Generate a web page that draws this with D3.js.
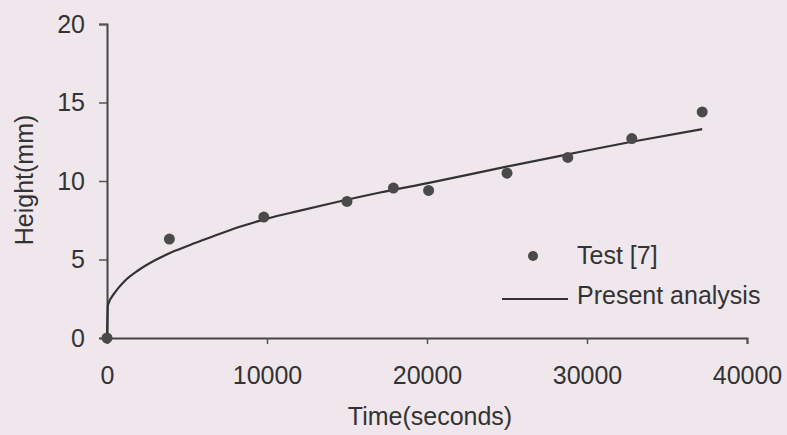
<!DOCTYPE html>
<html>
<head>
<meta charset="utf-8">
<script src="https://cdn.jsdelivr.net/npm/d3@7"></script>
<style>
  html, body { margin: 0; padding: 0; background: #efe7eb; }
  svg { display: block; }
  text { font-family: "Liberation Sans", Arial, sans-serif; fill: #333; }
</style>
</head>
<body>
<svg id="chart" width="787" height="435"></svg>
<script>
// Test [7] data (time in seconds, height in mm)
const testTime   = [0, 3900, 9800, 15000, 17900, 20100, 25000, 28800, 32800, 37200];
const testHeight = [0, 6.3, 7.7, 8.7, 9.55, 9.4, 10.5, 11.5, 12.7, 14.4];

// Present analysis curve
const curveTime   = [0, 60, 500, 1125, 1940, 3000, 4250, 5500, 6560, 8200, 10000, 12000, 14100, 17000, 20200, 24900, 28800, 32800, 37200];
const curveHeight = [0, 2.1, 2.9, 3.65, 4.3, 4.95, 5.55, 6.05, 6.45, 7.05, 7.6, 8.1, 8.6, 9.25, 9.9, 10.9, 11.7, 12.5, 13.3];

const xTicks = [0, 10000, 20000, 30000, 40000];
const yTicks = [0, 5, 10, 15, 20];
const legendLabels = ["Test [7]", "Present analysis"];
const xTitle = "Time(seconds)";
const yTitle = "Height(mm)";

const svg = d3.select("#chart");

const x = d3.scaleLinear().domain([0, 40000]).range([107, 747]);
const y = d3.scaleLinear().domain([0, 20]).range([338, 24]);

// Axes
const xAxis = d3.axisBottom(x).tickValues(xTicks).tickSize(6).tickPadding(22).tickFormat(d3.format("d"));
const yAxis = d3.axisLeft(y).tickValues(yTicks).tickSize(8).tickPadding(14).tickFormat(d3.format("d"));

const gx = svg.append("g").attr("transform", `translate(0,${y(0)})`).call(xAxis);
const gy = svg.append("g").attr("transform", `translate(${x(0)},0)`).call(yAxis);

[gx, gy].forEach(g => {
  g.select(".domain").attr("stroke", "#444").attr("stroke-width", 2);
  g.selectAll(".tick line").attr("stroke", "#555").attr("stroke-width", 1.5);
  g.selectAll(".tick text").attr("font-size", 25).attr("fill", "#333")
    .style("font-family", "'Liberation Sans', Arial, sans-serif");
});
gx.selectAll(".tick text").attr("dy", "0.71em");

// Axis titles
svg.append("text")
  .attr("x", 430).attr("y", 425)
  .attr("text-anchor", "middle")
  .attr("font-size", 25)
  .text(xTitle);

svg.append("text")
  .attr("transform", `translate(33,180) rotate(-90)`)
  .attr("text-anchor", "middle")
  .attr("font-size", 25)
  .text(yTitle);

// Curve
const curveData = curveTime.map((t, i) => ({ t, h: curveHeight[i] }));
const line = d3.line().x(d => x(d.t)).y(d => y(d.h)).curve(d3.curveMonotoneX);
svg.append("path")
  .datum(curveData)
  .attr("fill", "none")
  .attr("stroke", "#333")
  .attr("stroke-width", 2.2)
  .attr("d", line);

// Test points
const testData = testTime.map((t, i) => ({ t, h: testHeight[i] }));
svg.append("g").selectAll("circle")
  .data(testData)
  .enter().append("circle")
  .attr("cx", d => x(d.t))
  .attr("cy", d => y(d.h))
  .attr("r", 5.5)
  .attr("fill", "#4a4a4a");

// Legend
const lg = svg.append("g");
lg.append("circle").attr("cx", 533).attr("cy", 256).attr("r", 5).attr("fill", "#4a4a4a");
lg.append("text").attr("x", 577).attr("y", 264).attr("font-size", 25).text(legendLabels[0]);
lg.append("line").attr("x1", 502).attr("x2", 568).attr("y1", 299).attr("y2", 299)
  .attr("stroke", "#333").attr("stroke-width", 2.2);
lg.append("text").attr("x", 577).attr("y", 304).attr("font-size", 25).text(legendLabels[1]);
</script>
</body>
</html>
